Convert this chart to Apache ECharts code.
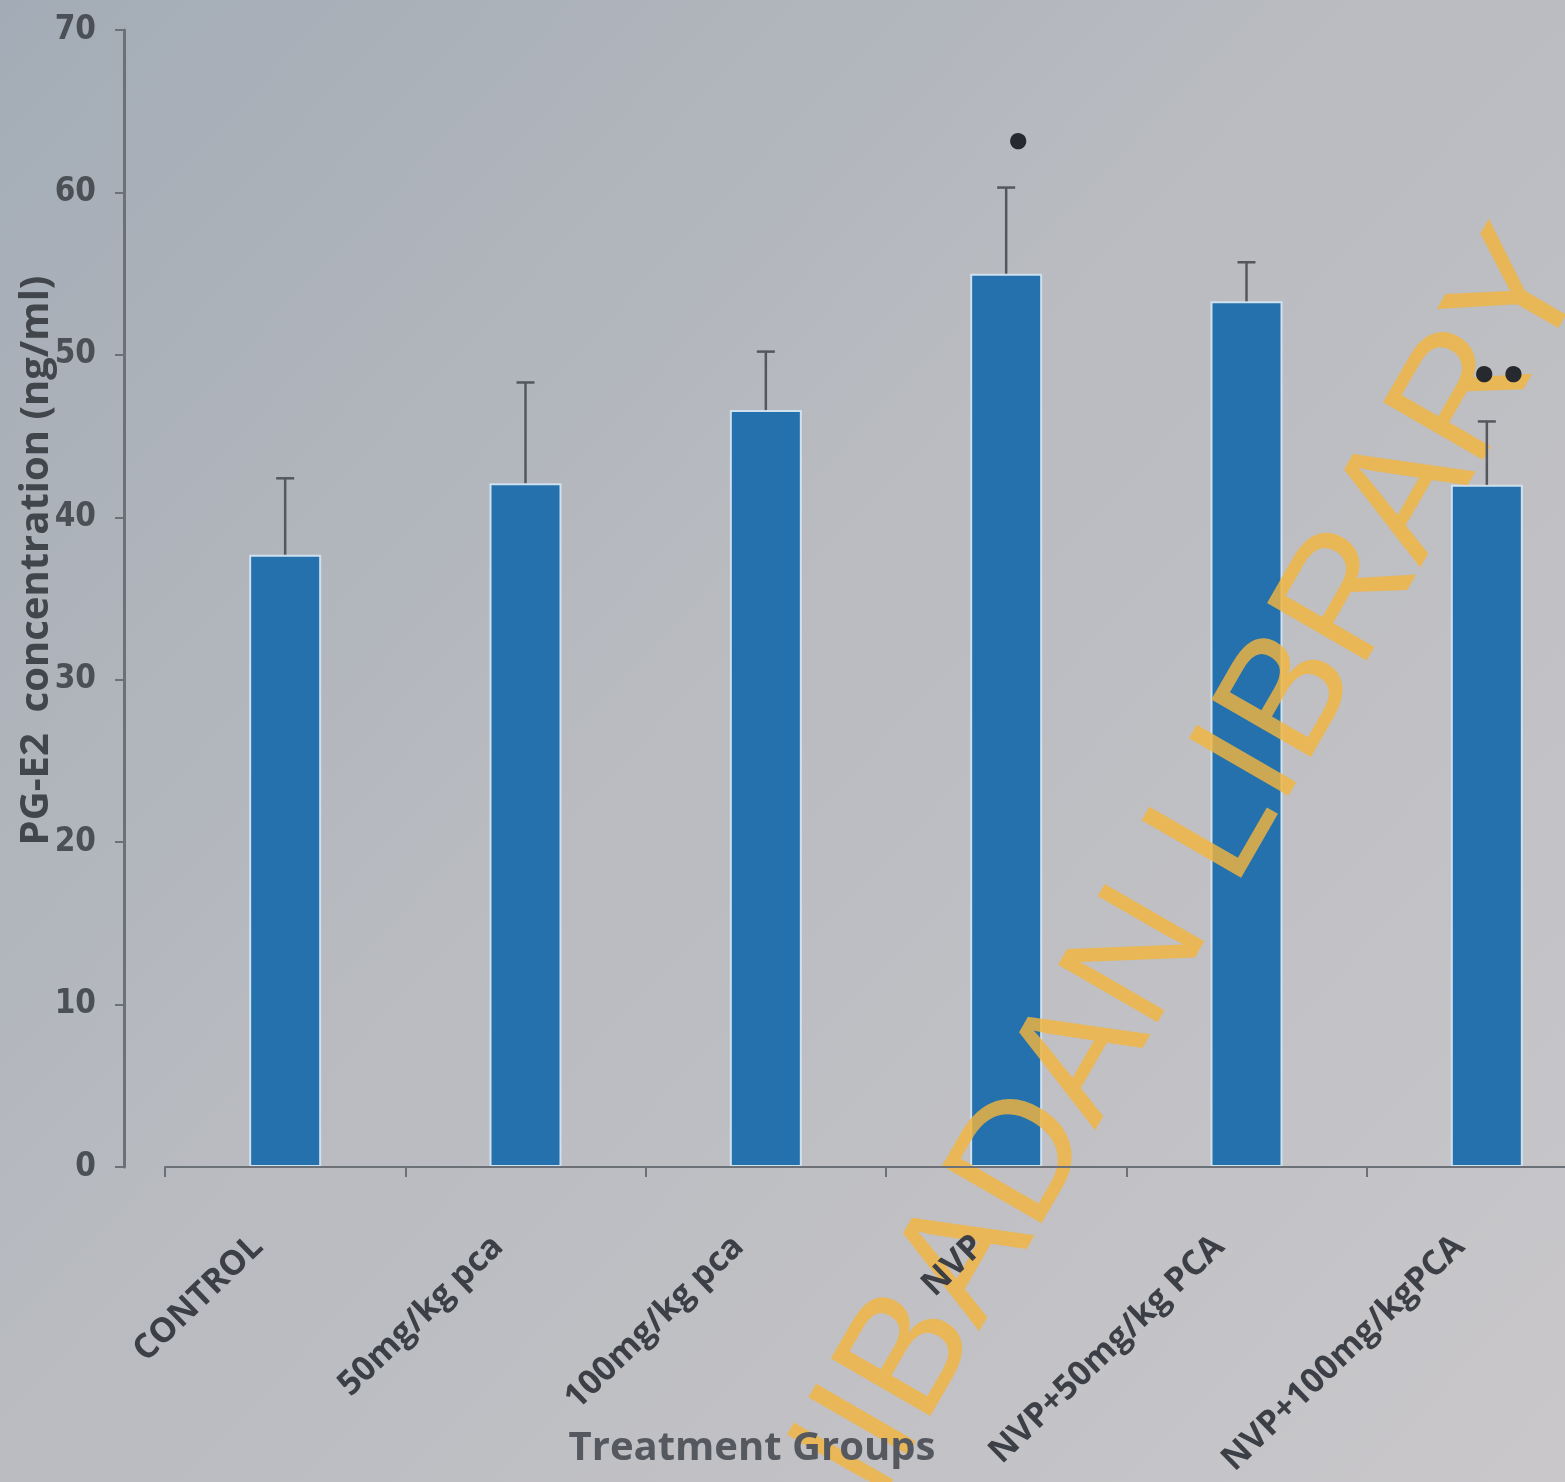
<!DOCTYPE html>
<html>
<head>
<meta charset="utf-8">
<title>PG-E2 concentration by treatment group</title>
<script src="https://cdn.jsdelivr.net/npm/echarts@6/dist/echarts.min.js"></script>
<style>
  html, body { margin: 0; padding: 0; width: 1565px; height: 1482px; overflow: hidden; }
  #chart { width: 1565px; height: 1482px; }
</style>
</head>
<body>
<div id="chart"></div>
<script>
// Treatment groups and PG-E2 concentration (ng/ml), mean and error
const groups = ['CONTROL', '50mg/kg pca', '100mg/kg pca', 'NVP', 'NVP+50mg/kg PCA', 'NVP+100mg/kgPCA'];
const means = [37.7, 42.1, 46.6, 55.0, 53.3, 42.0];
const errors = [4.7, 6.2, 3.6, 5.3, 2.4, 3.9];
const significance = ['', '', '', '•', '', '••'];
const yTicks = [0, 10, 20, 30, 40, 50, 60, 70];

const textColor = '#4b5056';
const axisColor = '#6c7177';

const chart = echarts.init(document.getElementById('chart'), null, { renderer: 'canvas' });

const errorData = groups.map((g, i) => [i, means[i], errors[i]]);

chart.setOption({
  backgroundColor: new echarts.graphic.LinearGradient(0, 0, 1, 1, [
    { offset: 0, color: '#a3acb6' },
    { offset: 0.45, color: '#b9bbc0' },
    { offset: 1, color: '#c9c7ca' }
  ]),
  animation: false,
  grid: { left: 165, right: -42, top: 30, bottom: 315, containLabel: false, outerBoundsMode: 'none' },
  xAxis: {
    type: 'category',
    data: groups,
    z: 4,
    name: 'Treatment Groups',
    nameLocation: 'middle',
    nameGap: 262,
    nameMoveOverlap: false,
    nameTextStyle: {
      fontFamily: 'Open Sans', fontWeight: 'bold', fontSize: 40, color: '#55595f',
      padding: [0, 268, 0, 0]
    },
    axisLine: { lineStyle: { color: axisColor, width: 2 } },
    axisTick: { show: true, length: 10, lineStyle: { color: axisColor, width: 2 } },
    axisLabel: {
      rotate: 44,
      margin: 48,
      padding: [0, 38, 0, 0],
      fontFamily: 'Open Sans', fontWeight: 'bold', fontSize: 34, color: '#3c4046'
    }
  },
  yAxis: {
    type: 'value',
    min: yTicks[0],
    max: yTicks[yTicks.length - 1],
    interval: 10,
    offset: 41,
    name: 'PG-E2  concentration (ng/ml)',
    nameLocation: 'middle',
    nameGap: 67,
    nameMoveOverlap: false,
    nameRotate: 90,
    nameTextStyle: {
      fontFamily: 'Open Sans', fontWeight: 'bold', fontSize: 40, color: '#41464c',
      padding: [0, 0, 0, 76]
    },
    axisLine: { show: true, lineStyle: { color: axisColor, width: 3 } },
    axisTick: { show: true, length: 9, lineStyle: { color: axisColor, width: 2 } },
    splitLine: { show: false },
    axisLabel: {
      margin: 28,
      fontFamily: 'Liberation Sans Narrow, DejaVu Sans Condensed, sans-serif',
      fontWeight: 'bold', fontSize: 33, color: textColor
    }
  },
  series: [
    {
      type: 'bar',
      data: means,
      barWidth: 72,
      itemStyle: { color: '#2471ad', borderColor: '#cfe1ef', borderWidth: 2 },
      z: 1
    },
    {
      type: 'custom',
      data: errorData,
      z: 5,
      renderItem: function (params, api) {
        const i = api.value(0);
        const v = api.value(1);
        const e = api.value(2);
        const mark = significance[params.dataIndex];
        const base = api.coord([i, v]);
        const top = api.coord([i, v + e]);
        const cap = 9;
        const style = { stroke: '#54585e', lineWidth: 2.5 };
        const children = [
          { type: 'line', shape: { x1: base[0], y1: base[1], x2: top[0], y2: top[1] }, style: style },
          { type: 'line', shape: { x1: top[0] - cap, y1: top[1], x2: top[0] + cap, y2: top[1] }, style: style }
        ];
        if (mark) {
          children.push({
            type: 'text',
            style: {
              text: mark, x: top[0] + 12, y: top[1] - 42,
              align: 'center', verticalAlign: 'middle',
              fontSize: 46, fontWeight: 'bold', fill: '#26292d',
              fontFamily: 'DejaVu Sans'
            }
          });
        }
        return { type: 'group', children: children };
      }
    }
  ],
  graphic: [
    {
      type: 'text',
      x: 1145, y: 952,
      rotation: 60 * Math.PI / 180,
      z: 3,
      style: {
        text: 'UNIBADAN LIBRARY',
        align: 'center', verticalAlign: 'middle',
        fontFamily: 'Liberation Sans', fontSize: 167,
        fill: 'rgba(242, 180, 62, 0.82)'
      }
    }
  ]
});
</script>
</body>
</html>
